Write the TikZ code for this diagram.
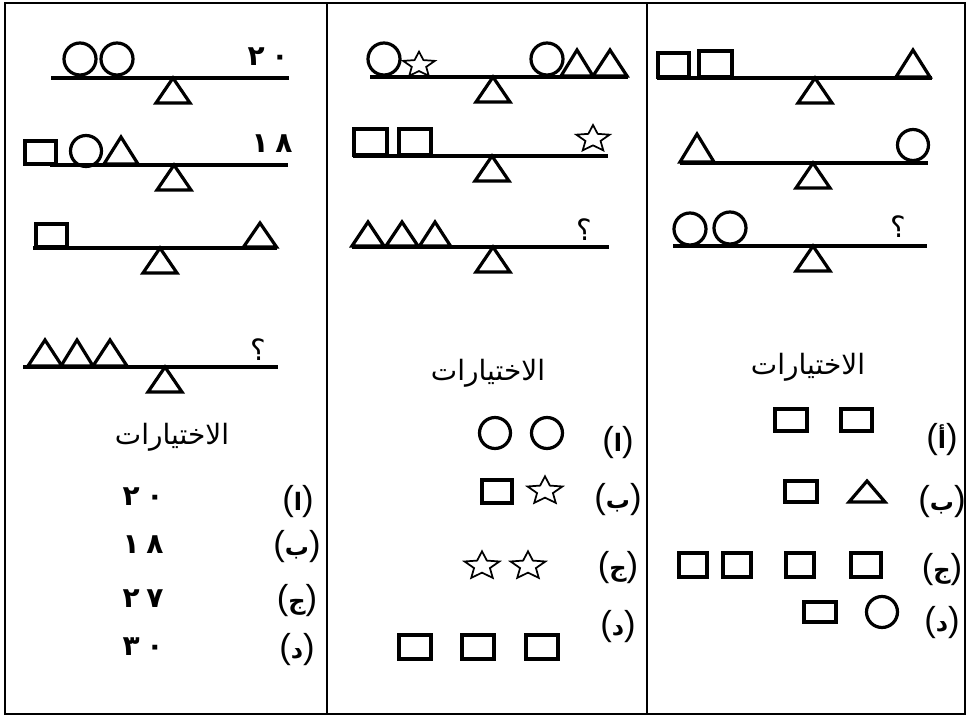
\documentclass[tikz,border=0pt]{standalone}
\usepackage{fontspec}
\usetikzlibrary{shapes.geometric}
\TeXXeTstate=1
\newfontfamily\arabicfont[Script=Arabic]{DejaVu Sans}
\newfontfamily\parenfont{Liberation Sans}
\tikzset{
  shp/.style={draw=black, line width=2.4pt, fill=none, line join=miter},
  beamline/.style={draw=black, line width=2.6pt},
  frameline/.style={draw=black, line width=2pt},
  starshape/.style={star, star points=5, star point ratio=2.2, draw=black, line width=1.3pt, inner sep=0pt, outer sep=0pt, xscale=1.25, transform shape},
  title/.style={font=\arabicfont\fontsize{21}{24}\selectfont, inner sep=0pt},
  optlbl/.style={inner sep=0pt},
  numlbl/.style={font=\arabicfont\bfseries\fontsize{21}{24}\selectfont, inner sep=0pt},
  qmark/.style={font=\arabicfont\fontsize{22}{24}\selectfont, inner sep=0pt}
}
\newcommand\optext[1]{{\parenfont\fontsize{26}{28}\selectfont(}{\arabicfont\bfseries\fontsize{18}{20}\selectfont #1}{\parenfont\fontsize{26}{28}\selectfont)}}
\newcommand\twodig[2]{#1\hspace{5pt}#2}
% square: x1 y1 x2 y2
\newcommand\mysq[4]{\draw[shp] (#1,#2) rectangle (#3,#4);}
% triangle: apex x, base y, half width, height
\newcommand\mytri[4]{\draw[shp] ({#1-#3},#2) -- (#1,{#2-#4}) -- ({#1+#3},#2) -- cycle;}
% circle: cx cy r
\newcommand\mycirc[3]{\draw[shp] (#1,#2) circle[radius=#3];}
% fulcrum: apex x, apex y
\newcommand\myfulc[2]{\draw[shp] ({#1-17},{#2+25}) -- (#1,#2) -- ({#1+17},{#2+25}) -- cycle;}
% beam: x1 x2 y
\newcommand\mybeam[3]{\draw[beamline] (#1,#3) -- (#2,#3);}
% star: cx cy size(pt)
\newcommand\mystar[3]{\node[starshape, minimum size=#3] at (#1,#2) {};}
\begin{document}
\begin{tikzpicture}[x=0.75pt, y=-0.75pt]
\useasboundingbox (0,0) rectangle (968,717);
\fill[white] (0,0) rectangle (968,717);
% frame
\draw[frameline] (5,3) rectangle (965,714);
\draw[frameline] (327,3) -- (327,714);
\draw[frameline] (647,3) -- (647,714);

% ===== LEFT PANEL =====
\mybeam{51}{289}{78}
\myfulc{173}{78}
\mycirc{80}{59}{16}
\mycirc{117}{59}{16}
\node[numlbl] (l1n) at (268,57) {\twodig{٢}{٠}};

\mybeam{50}{288}{165}
\myfulc{174}{165}
\mysq{25}{141}{56}{164}
\mycirc{86}{151}{15.5}
\mytri{121}{164}{17}{27}
\node[numlbl] (l2n) at (272,144) {\twodig{١}{٨}};

\mybeam{33}{277}{248}
\myfulc{160}{248}
\mysq{36}{224}{67}{247}
\mytri{260}{247}{16.5}{24}

\mybeam{23}{278}{367}
\myfulc{165}{367}
\mytri{45}{366}{17}{26}
\mytri{77}{366}{16}{26}
\mytri{110}{366}{17}{26}
\node[qmark] (l4q) at (258,350) {؟};

\node[title] (ltitle) at (172,437) {\beginR الاختيارات\endR};
\node[optlbl] (la) at (298,502) {\optext{ا}};
\node[optlbl] (lb) at (297,547) {\optext{ب}};
\node[optlbl] (lc) at (297,601) {\optext{ج}};
\node[optlbl] (ld) at (297,650) {\optext{د}};
\node[numlbl] (lan) at (143,497) {\twodig{٢}{٠}};
\node[numlbl] (lbn) at (143,545) {\twodig{١}{٨}};
\node[numlbl] (lcn) at (143,599) {\twodig{٢}{٧}};
\node[numlbl] (ldn) at (143,647) {\twodig{٣}{٠}};

% ===== MIDDLE PANEL =====
\mybeam{370}{628}{77}
\myfulc{493}{77}
\mycirc{384}{59}{16}
\mystar{419}{65}{20pt}
\mycirc{547}{59}{16}
\mytri{577}{76}{16}{26}
\mytri{610}{76}{17}{26}

\mybeam{353}{608}{156}
\myfulc{492}{156}
\mysq{354}{129}{387}{155}
\mysq{399}{129}{431}{155}
\mystar{593}{139}{21pt}

\mybeam{352}{609}{247}
\myfulc{493}{247}
\mytri{368}{246}{16}{24}
\mytri{402}{246}{16}{24}
\mytri{435}{246}{15.5}{24}
\node[qmark] (m3q) at (584,230) {؟};

\node[title] (mtitle) at (488,373) {\beginR الاختيارات\endR};
\node[optlbl] (ma) at (618,443) {\optext{ا}};
\node[optlbl] (mb) at (618,500) {\optext{ب}};
\node[optlbl] (mc) at (618,568) {\optext{ج}};
\node[optlbl] (md) at (618,627) {\optext{د}};
\mycirc{495}{433}{15.5}
\mycirc{547}{433}{15.5}
\mysq{482}{480}{512}{503}
\mystar{545}{491}{22pt}
\mystar{482}{566}{22pt}
\mystar{528}{566}{22pt}
\mysq{399}{635}{431}{659}
\mysq{462}{635}{494}{659}
\mysq{526}{635}{558}{659}

% ===== RIGHT PANEL =====
\mybeam{657}{932}{78}
\myfulc{815}{78}
\mysq{658}{53}{689}{77}
\mysq{699}{51}{732}{77}
\mytri{913}{77}{17}{27}

\mybeam{680}{928}{163}
\myfulc{813}{163}
\mytri{697}{162}{17}{28}
\mycirc{913}{145}{15.5}

\mybeam{673}{927}{246}
\myfulc{813}{246}
\mycirc{690}{229}{16}
\mycirc{730}{228}{16}
\node[qmark] (r3q) at (898,227) {؟};

\node[title] (rtitle) at (808,367) {\beginR الاختيارات\endR};
\node[optlbl] (ra) at (942,440) {\optext{أ}};
\node[optlbl] (rb) at (942,502) {\optext{ب}};
\node[optlbl] (rc) at (942,570) {\optext{ج}};
\node[optlbl] (rd) at (942,623) {\optext{د}};
\mysq{775}{409}{807}{431}
\mysq{841}{409}{872}{431}
\mysq{785}{481}{817}{502}
\mytri{867}{502}{18}{21}
\mysq{679}{553}{707}{577}
\mysq{723}{553}{751}{577}
\mysq{786}{553}{814}{577}
\mysq{851}{553}{881}{577}
\mysq{804}{602}{836}{622}
\mycirc{882}{612}{15.5}
\end{tikzpicture}
\end{document}
